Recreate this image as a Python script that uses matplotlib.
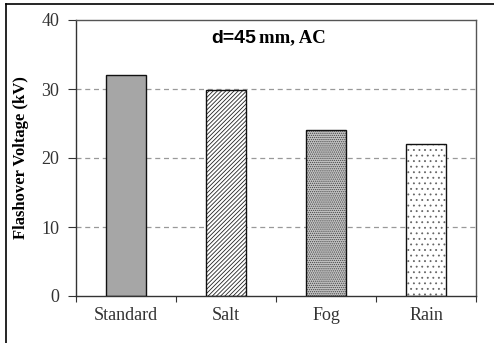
import matplotlib
matplotlib.use("Agg")
import matplotlib.pyplot as plt
from matplotlib.lines import Line2D

categories = ["Standard", "Salt", "Fog", "Rain"]
voltage = [32.0, 29.8, 24.0, 22.0]
yticks = [0, 10, 20, 30, 40]

plt.rcParams['hatch.linewidth'] = 0.6

fig = plt.figure(figsize=(4.94, 3.43), dpi=100)
ax = fig.add_axes([76/494, 1-296/343, 400/494, 276/343])

x = list(range(len(categories)))
faces = ['#a6a6a6', 'white', '#c4c4c4', 'white']
hatches = [None, '////////', '........', '...']
hcols = ['#222222', '#222222', '#444444', '#666666']
for xi, v, fc, h, hc in zip(x, voltage, faces, hatches, hcols):
    ax.bar(xi, v, width=0.4, color=fc, edgecolor=hc, hatch=h, linewidth=0, zorder=2)
    ax.bar(xi, v, width=0.4, fill=False, edgecolor='#111111', linewidth=1.0, zorder=3)

ax.set_xlim(-0.5, 3.5)
ax.set_ylim(0, 40)
ax.set_yticks(yticks)
ax.set_yticklabels([str(t) for t in yticks], fontfamily='Liberation Serif', fontsize=13, color='#333333')
ax.set_xticks([-0.5, 0.5, 1.5, 2.5, 3.5])
ax.set_xticklabels([])
ax.set_xticks(x, minor=True)
ax.set_xticklabels(categories, minor=True, fontfamily='Liberation Serif', fontsize=13, color='#333333')
ax.tick_params(axis='x', which='minor', length=0, pad=8)
ax.tick_params(axis='x', which='major', length=4, direction='out', color='#333333')
ax.tick_params(axis='y', length=6, direction='out', color='#333333', pad=6)

for yv in [10, 20, 30]:
    ax.axhline(yv, color='#999999', linestyle=(0, (4, 3)), linewidth=0.9, zorder=1)

for s in ['left', 'bottom']:
    ax.spines[s].set_color('#333333')
    ax.spines[s].set_linewidth(1.0)
for s in ['top', 'right']:
    ax.spines[s].set_color('#555555')
    ax.spines[s].set_linewidth(1.0)

ax.set_ylabel("Flashover Voltage (kV)", fontfamily='Liberation Serif', fontweight='bold', fontsize=12, labelpad=9)

ax.text(0.45, 0.918, "d=45", transform=ax.transAxes, ha='right', va='baseline',
        fontfamily='Liberation Sans', fontweight='bold', fontsize=14)
ax.text(0.458, 0.918, "mm, AC", transform=ax.transAxes, ha='left', va='baseline',
        fontfamily='Liberation Serif', fontweight='bold', fontsize=13.5)

# outer frame lines (top and left)
fig.add_artist(Line2D([6/494, 1.0], [1-4/343, 1-4/343], transform=fig.transFigure, color='black', linewidth=1.2))
fig.add_artist(Line2D([6/494, 6/494], [0, 1-4/343], transform=fig.transFigure, color='black', linewidth=1.2))

fig.savefig("out.png", dpi=100)
